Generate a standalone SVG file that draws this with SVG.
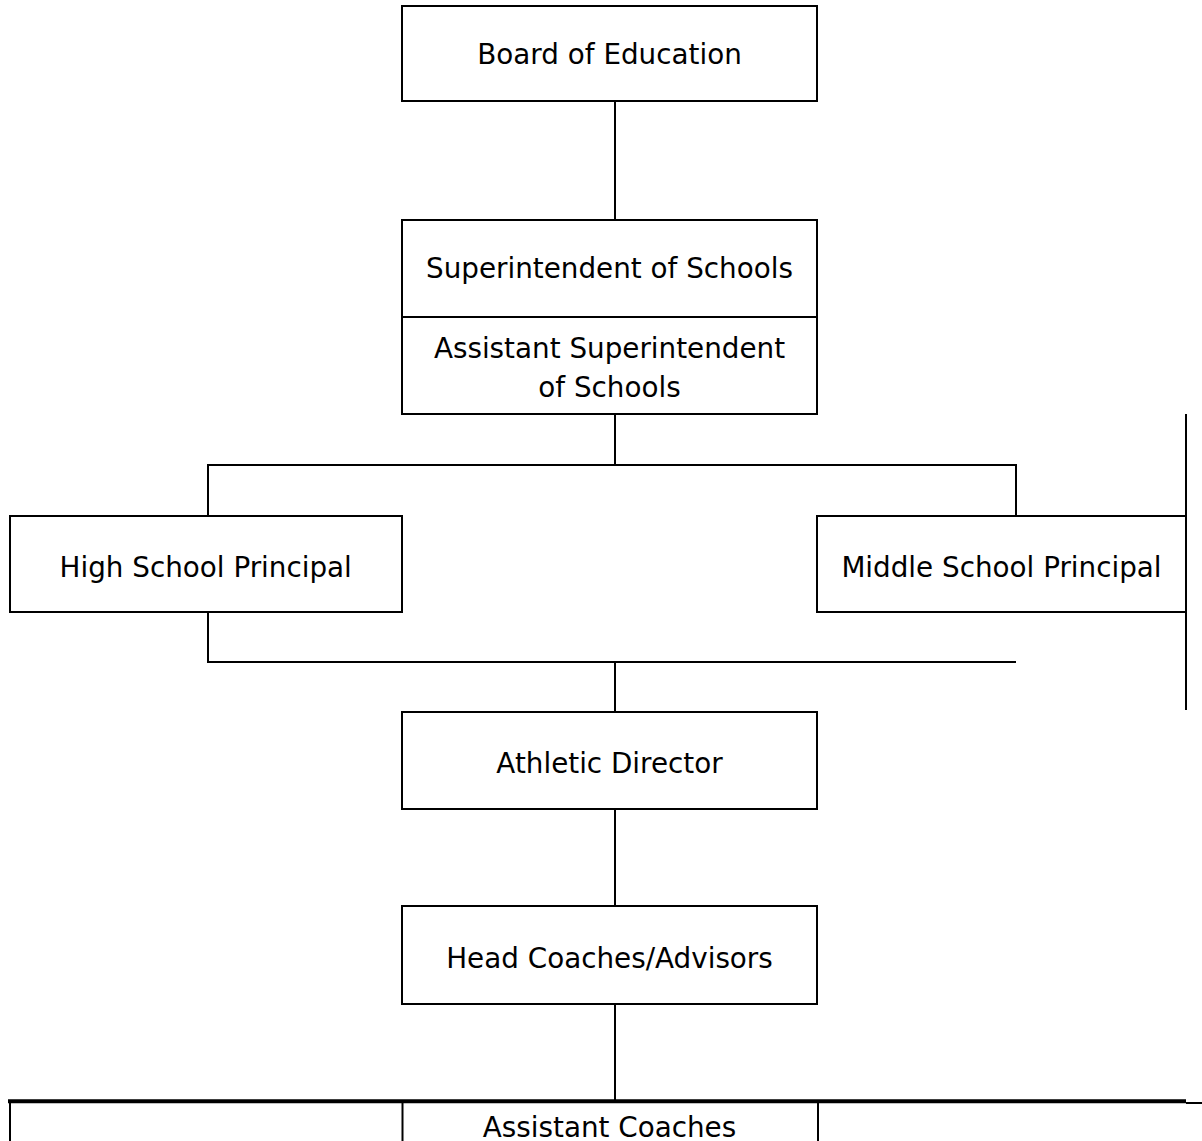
<svg xmlns="http://www.w3.org/2000/svg" width="1202" height="1141" viewBox="0 0 1202 1141">
<style>
.box{fill:#fff;stroke:#000;stroke-width:2}
.ln{stroke:#000;stroke-width:2;fill:none}
.t{font-family:"DejaVu Sans","Verdana",sans-serif;font-size:27.8px;fill:#000;text-anchor:middle}
</style>
<rect width="1202" height="1141" fill="#fff"/>
<g id="connectors">
<line class="ln" x1="615" y1="101" x2="615" y2="220"/>
<line class="ln" x1="615" y1="414" x2="615" y2="465"/>
<polyline class="ln" points="208,516 208,465 1016,465 1016,516"/>
<polyline class="ln" points="208,612 208,662 1016,662"/>
<line class="ln" x1="615" y1="662" x2="615" y2="712"/>
<line class="ln" x1="615" y1="809" x2="615" y2="906"/>
<line class="ln" x1="615" y1="1004" x2="615" y2="1101"/>
<line class="ln" x1="1186" y1="414" x2="1186" y2="710"/>
</g>
<g id="board">
<rect class="box" x="402" y="6" width="415" height="95"/>
<text class="t" x="609.5" y="64">Board of Education</text>
</g>
<g id="superintendent">
<rect class="box" x="402" y="220" width="415" height="194"/>
<line class="ln" x1="402" y1="317" x2="817" y2="317"/>
<text class="t" x="609.5" y="278">Superintendent of Schools</text>
<text class="t" x="609.5" y="358">Assistant Superintendent</text>
<text class="t" x="609.5" y="397">of Schools</text>
</g>
<g id="high-school">
<rect class="box" x="10" y="516" width="392" height="96"/>
<text class="t" x="205.7" y="577">High School Principal</text>
</g>
<g id="middle-school">
<rect class="box" x="817" y="516" width="369" height="96"/>
<text class="t" x="1001.5" y="577">Middle School Principal</text>
</g>
<g id="athletic">
<rect class="box" x="402" y="712" width="415" height="97"/>
<text class="t" x="609.5" y="773">Athletic Director</text>
</g>
<g id="head-coaches">
<rect class="box" x="402" y="906" width="415" height="98"/>
<text class="t" x="609.5" y="968">Head Coaches/Advisors</text>
</g>
<g id="assistant-coaches">
<line x1="8" y1="1101.3" x2="1186" y2="1101.3" stroke="#000" stroke-width="4"/>
<line x1="1186" y1="1103" x2="1202" y2="1103" stroke="#000" stroke-width="2"/>
<line class="ln" x1="10" y1="1101" x2="10" y2="1141"/>
<line class="ln" x1="402.5" y1="1101" x2="402.5" y2="1141"/>
<line class="ln" x1="818" y1="1101" x2="818" y2="1141"/>
<text class="t" x="609.5" y="1137">Assistant Coaches</text>
</g>
</svg>
